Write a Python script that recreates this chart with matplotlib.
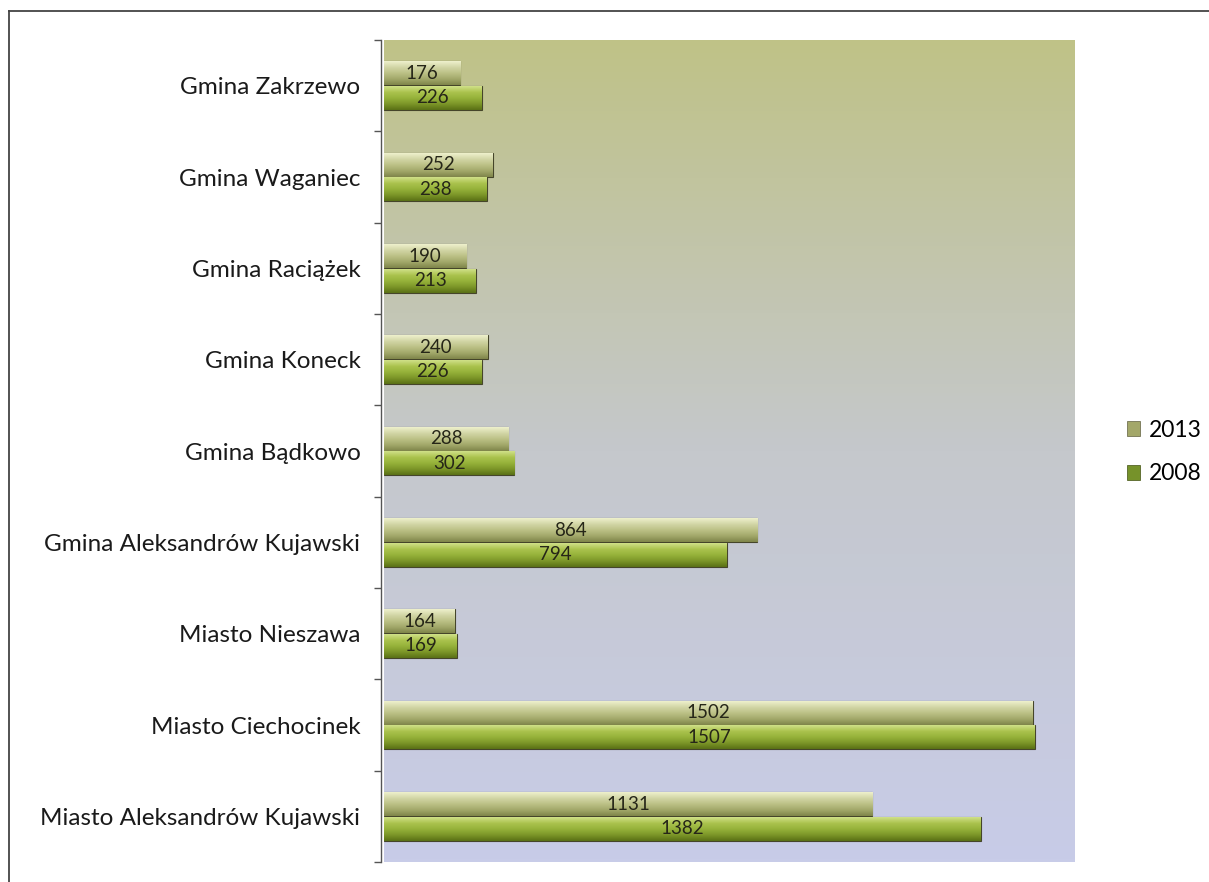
import numpy as np
import matplotlib
matplotlib.use('Agg')
import matplotlib.pyplot as plt
from matplotlib.colors import LinearSegmentedColormap
from matplotlib.patches import Patch
from matplotlib.lines import Line2D

categories = [
    'Miasto Aleksandrów Kujawski',
    'Miasto Ciechocinek',
    'Miasto Nieszawa',
    'Gmina Aleksandrów Kujawski',
    'Gmina Bądkowo',
    'Gmina Koneck',
    'Gmina Raciążek',
    'Gmina Waganiec',
    'Gmina Zakrzewo',
]
values_2013 = [1131, 1502, 164, 864, 288, 240, 190, 252, 176]
values_2008 = [1382, 1507, 169, 794, 302, 226, 213, 238, 226]
series_names = ['2013', '2008']

FONT = ['Lato', 'DejaVu Sans']
BAR_H = 0.26
BG_TOP = '#bfc287'
BG_BOTTOM = '#c8cce8'
# top -> bottom of each bar
STOPS_2013 = ['#eef0cc', '#d2d6a6', '#bcc186', '#a2a86a', '#7f854a']
STOPS_2008 = ['#d0e088', '#abc34e', '#96b23a', '#7c9628', '#5a7016']
LEGEND_2013 = '#a3a769'
LEGEND_2008 = '#76922a'

plt.rcParams['font.family'] = FONT

fig = plt.figure(figsize=(12.09, 8.82), dpi=100)
ax = fig.add_axes([384 / 1209, 1 - 862 / 882, (1075 - 384) / 1209, (862 - 40) / 882])

# background gradient of the plot area
bg = LinearSegmentedColormap.from_list('bg', [BG_BOTTOM, '#c5c8cc', BG_TOP])
ax.imshow(np.linspace(0, 1, 256).reshape(-1, 1), cmap=bg, origin='lower',
          extent=(0, 1, 0, 1), transform=ax.transAxes, aspect='auto', zorder=0)

y = np.arange(len(categories))


def gradient_bars(vals, offset, stops):
    cmap = LinearSegmentedColormap.from_list('g', stops[::-1])
    bars = ax.barh(y + offset, vals, height=BAR_H, color=stops[2],
                   edgecolor='#45452a', linewidth=0.8, zorder=2)
    grad = np.linspace(0, 1, 64).reshape(-1, 1)
    for bar in bars:
        x0, y0 = bar.get_x(), bar.get_y()
        im = ax.imshow(grad, cmap=cmap, origin='lower', aspect='auto',
                       extent=(x0, x0 + bar.get_width(), y0, y0 + bar.get_height()),
                       zorder=3)
        im.set_clip_path(bar)
    for v, yy in zip(vals, y + offset):
        ax.text(v / 2, yy, str(v), ha='center', va='center', fontsize=13.5,
                color='#262618', zorder=4)
    return bars


gradient_bars(values_2013, BAR_H / 2 + 0.005, STOPS_2013)
gradient_bars(values_2008, -BAR_H / 2 - 0.005, STOPS_2008)

ax.set_xlim(0, 1600)
ax.set_ylim(-0.5, len(categories) - 0.5)

for s in ['top', 'right', 'bottom']:
    ax.spines[s].set_visible(False)
ax.spines['left'].set_position(('outward', 2))
ax.spines['left'].set_color('#555555')
ax.spines['left'].set_linewidth(1.0)
ax.set_xticks([])

ax.set_yticks(y)
ax.set_yticklabels(categories, fontsize=17.5, color='#1a1a1a')
ax.tick_params(axis='y', which='major', length=0, pad=15)
ax.set_yticks(np.arange(len(categories) + 1) - 0.5, minor=True)
ax.tick_params(axis='y', which='minor', length=5, width=1.0, color='#555555')

handles = [Patch(facecolor=LEGEND_2013, edgecolor='#606040', linewidth=0.5),
           Patch(facecolor=LEGEND_2008, edgecolor='#405010', linewidth=0.5)]
fig.legend(handles, series_names, loc='center left', bbox_to_anchor=(1106 / 1209, 1 - 452 / 882),
           frameon=False, fontsize=16.5, handlelength=0.6, handleheight=0.6,
           handletextpad=0.35, labelspacing=1.0)

# outer chart frame (cut by the scan on the right and bottom)
fig.add_artist(Line2D([9 / 1209, 9 / 1209], [0, 1 - 11 / 882], transform=fig.transFigure,
                      color='#444444', linewidth=1.3))
fig.add_artist(Line2D([9 / 1209, 1], [1 - 11 / 882, 1 - 11 / 882], transform=fig.transFigure,
                      color='#444444', linewidth=1.3))

fig.savefig('out.png', dpi=100)
